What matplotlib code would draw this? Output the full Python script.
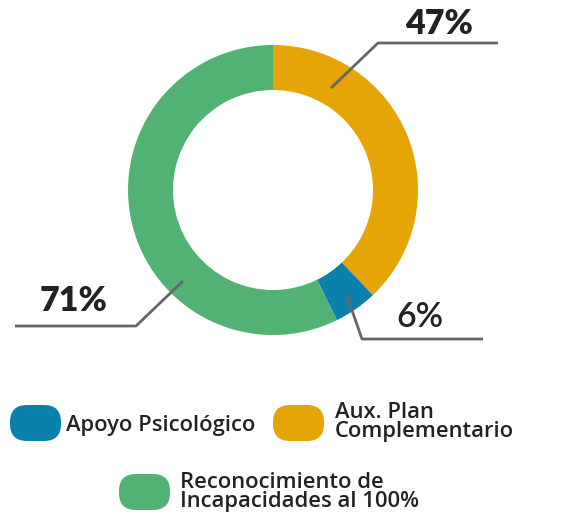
import matplotlib
matplotlib.use("Agg")
import matplotlib.pyplot as plt
from matplotlib.patches import FancyBboxPatch

# data
labels = ["Aux. Plan\nComplementario", "Apoyo Psicológico", "Reconocimiento de\nIncapacidades al 100%"]
values = [47, 6, 71]
pct_text = ["47%", "6%", "71%"]
colors = ["#E5A507", "#0A80AB", "#52B273"]

W, H = 565, 514
plt.rcParams['font.family'] = ['Lato', 'DejaVu Sans']

fig = plt.figure(figsize=(W / 100, H / 100), dpi=100)
ax = fig.add_axes([0, 0, 1, 1])

def Y(y):
    # picture coordinates (y down) -> axes coords (y up)
    return H - y

ax.pie(values, colors=colors, startangle=90, counterclock=False,
       radius=145, center=(273, Y(190)),
       wedgeprops=dict(width=45, linewidth=0))

# leader lines and percentage labels
leaders = [
    [(331, 88), (378, 43), (498, 43)],
    [(347, 296), (362, 339), (483, 339)],
    [(183, 281), (136, 326), (15, 326)],
]
label_pos = [(439, 24), (420, 317), (74, 301)]
weights = ["heavy", "semibold", "heavy"]
for pts, pos, t, w in zip(leaders, label_pos, pct_text, weights):
    ax.plot([p[0] for p in pts], [Y(p[1]) for p in pts], color="#666666", lw=2,
            solid_capstyle="butt")
    ax.text(pos[0], Y(pos[1]), t, fontsize=24.5, fontweight=w, color="#222222",
            ha="center", va="center")

# legend pills
legend_items = [
    (1, (10, 405), (66, 425)),
    (0, (273, 405), (335, 422)),
    (2, (119, 474), (180, 492)),
]
for idx, (px, py), (tx, ty) in legend_items:
    pill = FancyBboxPatch((px, Y(py + 36)), 51, 36,
                          boxstyle="round,pad=0,rounding_size=17",
                          facecolor=colors[idx], edgecolor="none")
    ax.add_patch(pill)
    ax.text(tx, Y(ty), labels[idx], fontsize=15.8, family=["Open Sans", "DejaVu Sans"],
            fontweight="semibold", color="#222222", ha="left", va="center",
            linespacing=0.85)

ax.set_xlim(0, W)
ax.set_ylim(0, H)
ax.set_aspect("equal")
ax.axis("off")

fig.savefig("out.png", dpi=100)
